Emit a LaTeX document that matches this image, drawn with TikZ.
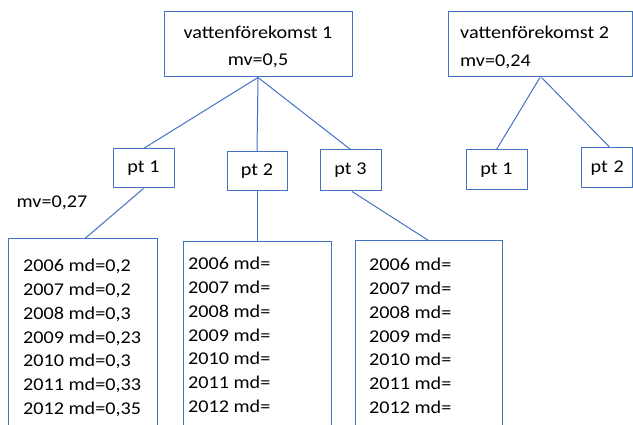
\documentclass[tikz,border=0pt]{standalone}
\usepackage{fontspec}
\setmainfont{Carlito}[FakeStretch=1.12]
\definecolor{lineblue}{HTML}{4472C4}
\begin{document}
\begin{tikzpicture}[x=1pt,y=-1pt,
  box/.style={draw=lineblue, line width=1pt, rectangle, inner sep=0pt},
  conn/.style={draw=lineblue, line width=1pt},
  txt/.style={font=\fontsize{18}{27.5}\selectfont, inner sep=0pt},
  rows/.style={font=\fontsize{18}{23.8}\selectfont, inner sep=0pt, align=left, anchor=north west}]
\useasboundingbox (0,0) rectangle (633,425);
% top boxes
\node[box, minimum width=188pt, minimum height=65pt] (vf1) at (258,44.5) {};
\node[txt, align=center] (vf1t) at (258,47) {vattenförekomst 1\\mv=0,5};
\node[box, minimum width=184pt, minimum height=65pt] (vf2) at (540,44.5) {};
\node[txt, align=left, anchor=west] (vf2t) at (460,47.5) {vattenförekomst 2\\mv=0,24};
% pt boxes
\node[box, minimum width=61pt, minimum height=39pt, font=\fontsize{18}{22}\selectfont] (p1) at (143.5,168.5) {pt 1};
\node[box, minimum width=60pt, minimum height=39pt, font=\fontsize{18}{22}\selectfont] (p2) at (257,171.5) {pt 2};
\node[box, minimum width=61pt, minimum height=41pt, font=\fontsize{18}{22}\selectfont] (p3) at (350.5,170.5) {pt 3};
\node[box, minimum width=61pt, minimum height=40pt, font=\fontsize{18}{22}\selectfont] (q1) at (496.5,170) {pt 1};
\node[box, minimum width=51pt, minimum height=40pt, font=\fontsize{18}{22}\selectfont, text width=40pt, align=left] (q2) at (606.5,168) {\hspace*{4pt}pt 2};
% label
\node[txt] (mv) at (52,203) {mv=0,27};
% bottom boxes
\node[box, minimum width=149pt, minimum height=195pt] (b1) at (82.5,336.5) {};
\node[box, minimum width=148pt, minimum height=195pt] (b2) at (257,339.5) {};
\node[box, minimum width=147pt, minimum height=195pt] (b3) at (428.5,338.5) {};
\node[rows] (b1t) at (23,259) {2006 md=0,2\\2007 md=0,2\\2008 md=0,3\\2009 md=0,23\\2010 md=0,3\\2011 md=0,33\\2012 md=0,35};
\node[rows] (b2t) at (188,257) {2006 md=\\2007 md=\\2008 md=\\2009 md=\\2010 md=\\2011 md=\\2012 md=};
\node[rows] (b3t) at (369,258) {2006 md=\\2007 md=\\2008 md=\\2009 md=\\2010 md=\\2011 md=\\2012 md=};
% connectors
\draw[conn] (vf1.south) -- (p1.north);
\draw[conn] (vf1.south) -- (p2.north);
\draw[conn] (vf1.south) -- (p3.north);
\draw[conn] (vf2.south) -- (q1.north);
\draw[conn] ([xshift=1.5pt]vf2.south) -- ([xshift=3.5pt]q2.north);
\draw[conn] (p1.south) -- ([xshift=2.5pt]b1.north);
\draw[conn] (p2.south) -- (b2.north);
\draw[conn] ([xshift=1.5pt]p3.south) -- (b3.north);
\end{tikzpicture}
\end{document}
